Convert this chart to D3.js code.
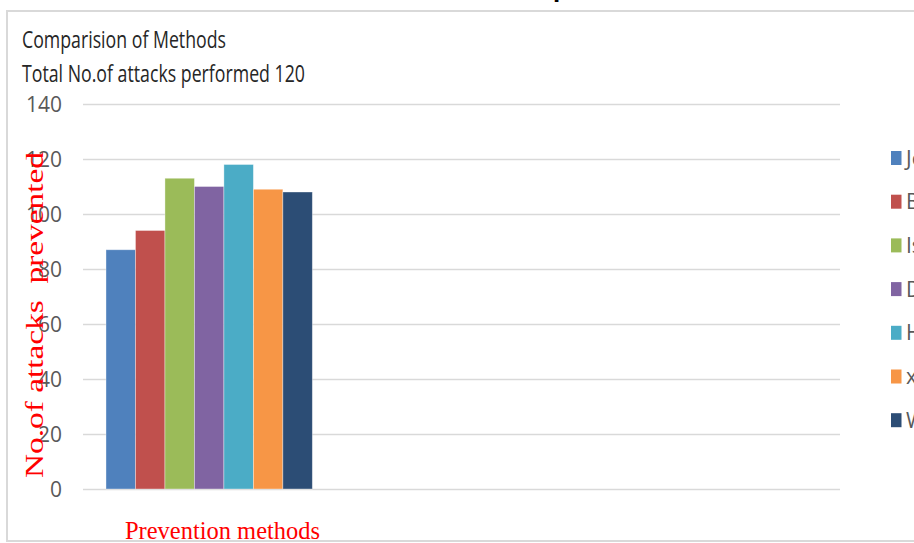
<!DOCTYPE html>
<html>
<head>
<meta charset="utf-8">
<script src="https://cdn.jsdelivr.net/npm/d3@7"></script>
<style>
  html, body { margin: 0; padding: 0; background: #ffffff; overflow: hidden; }
  svg { display: block; }
</style>
</head>
<body>
<svg id="chart" width="914" height="543"></svg>
<script>
// Category slots along the x axis (only the first one carries data)
const slots = ["Set 1", "Set 2", "Set 3"];
// Prevention methods shown as series
const methods = ["Jeeves", "BEEP", "Isolation", "DSI", "HTML sanitizer", "xssGuard", "Whitelisting"];
// Attacks prevented by each method (out of 120)
const prevented = [87, 94, 113, 110, 118, 109, 108];
// Y axis tick values
const yTicks = [0, 20, 40, 60, 80, 100, 120, 140];
// Series colours
const colors = ["#4F81BD", "#C0504D", "#9BBB59", "#8064A2", "#4BACC6", "#F79646", "#2C4D75"];

const titleLines = ["Comparision of Methods", "Total No.of attacks performed 120"];
const yTitle = "No.of attacks  prevented";
const xTitle = "Prevention methods";

const svg = d3.select("#chart");
const W = 914, H = 543;

const plot = { left: 83, right: 840, top: 104, bottom: 489 };

// Outer chart frame
svg.append("path")
  .attr("d", `M${W + 2},11 H7 V541 H${W + 2}`)
  .attr("fill", "none")
  .attr("stroke", "#d9d9d9")
  .attr("stroke-width", 2);

// Clipped descender of the slide heading above the chart
svg.append("text")
  .attr("x", 553)
  .attr("y", -3.5)
  .attr("font-family", "Liberation Sans, Arial, sans-serif")
  .attr("font-weight", "bold")
  .attr("font-size", 26)
  .attr("fill", "#000")
  .text("p");

const y = d3.scaleLinear().domain([0, 140]).range([plot.bottom, plot.top]);
const x0 = d3.scaleBand().domain(slots).range([plot.left, plot.right]).paddingInner(0).paddingOuter(0);
const x1 = d3.scaleBand().domain(methods).range([0, x0.bandwidth()]).paddingInner(0).paddingOuter(0.78);
const color = d3.scaleOrdinal().domain(methods).range(colors);

// Gridlines and tick labels
const yAxis = d3.axisLeft(y)
  .tickValues(yTicks)
  .tickSize(-(plot.right - plot.left))
  .tickPadding(21)
  .tickFormat(d3.format("d"));

const gy = svg.append("g")
  .attr("transform", `translate(${plot.left},0)`)
  .call(yAxis);
gy.select(".domain").remove();
gy.selectAll(".tick line")
  .attr("stroke", "#d9d9d9")
  .attr("stroke-width", 1.6);
gy.selectAll(".tick text")
  .attr("fill", "#595959")
  .attr("font-family", "Liberation Sans Narrow, Arial Narrow, Open Sans, sans-serif")
  .attr("font-size", 21)
  .attr("dy", "0.36em");

// Bars
const first = slots[0];
svg.append("g")
  .selectAll("rect")
  .data(methods.map((m, i) => ({ method: m, value: prevented[i] })))
  .join("rect")
  .attr("x", d => x0(first) + x1(d.method))
  .attr("y", d => y(d.value))
  .attr("width", x1.bandwidth())
  .attr("height", d => y(0) - y(d.value))
  .attr("fill", d => color(d.method))
  .attr("stroke", "rgba(255,255,255,0.45)")
  .attr("stroke-width", 0.8);

// Titles
const titleFont = "Liberation Sans Narrow, Arial Narrow, Open Sans, sans-serif";
svg.append("text")
  .attr("x", 22).attr("y", 48)
  .attr("font-family", titleFont)
  .attr("font-size", 23)
  .attr("fill", "#262626")
  .attr("textLength", 204)
  .attr("lengthAdjust", "spacingAndGlyphs")
  .text(titleLines[0]);
svg.append("text")
  .attr("x", 22).attr("y", 82)
  .attr("font-family", titleFont)
  .attr("font-size", 23)
  .attr("fill", "#262626")
  .attr("textLength", 283)
  .attr("lengthAdjust", "spacingAndGlyphs")
  .text(titleLines[1]);

// Axis titles (red serif)
svg.append("text")
  .attr("transform", "translate(43,315) rotate(-90)")
  .attr("text-anchor", "middle")
  .attr("font-family", "Liberation Serif, Times New Roman, serif")
  .attr("font-size", 25)
  .attr("fill", "#ff0000")
  .attr("xml:space", "preserve")
  .style("white-space", "pre")
  .attr("textLength", 326)
  .attr("lengthAdjust", "spacingAndGlyphs")
  .text(yTitle);

svg.append("text")
  .attr("x", 125).attr("y", 539)
  .attr("font-family", "Liberation Serif, Times New Roman, serif")
  .attr("font-size", 25)
  .attr("fill", "#ff0000")
  .attr("textLength", 195)
  .attr("lengthAdjust", "spacingAndGlyphs")
  .text(xTitle);

// Legend (runs off the right edge)
const legend = svg.append("g")
  .selectAll("g")
  .data(methods)
  .join("g")
  .attr("transform", (d, i) => `translate(891,${158 + i * 43.7})`);
legend.append("rect")
  .attr("x", 0).attr("y", -7)
  .attr("width", 10.5).attr("height", 14)
  .attr("fill", d => color(d));
legend.append("text")
  .attr("x", 15).attr("y", 0)
  .attr("dy", "0.36em")
  .attr("font-family", titleFont)
  .attr("font-size", 21)
  .attr("fill", "#595959")
  .text(d => d);
</script>
</body>
</html>
